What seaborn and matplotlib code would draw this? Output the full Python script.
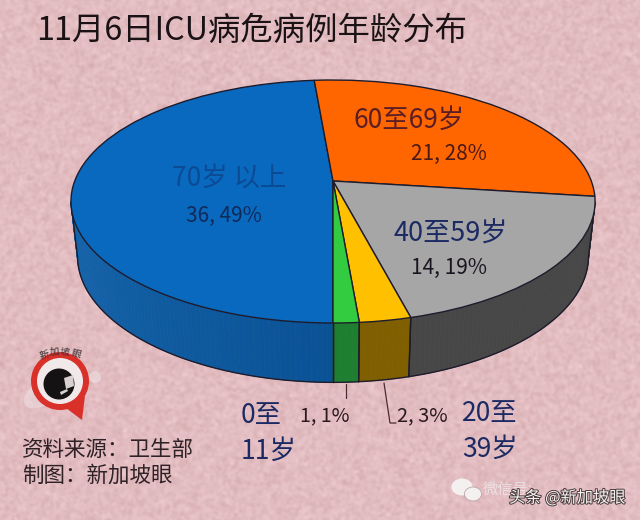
import numpy as np
import matplotlib
matplotlib.use("Agg")
import matplotlib.pyplot as plt
import matplotlib.patheffects as pe
from matplotlib.colors import to_rgb
from matplotlib.patches import Circle, Ellipse, Polygon
from matplotlib.transforms import Transform
import seaborn as sns

sns.set_theme(style="white")
plt.rcParams['font.family'] = ['Noto Sans CJK SC', 'DejaVu Sans']

title = "11月6日ICU病危病例年龄分布"
groups = ["70岁 以上", "60至69岁", "40至59岁"]
small_groups = [("0至", "11岁"), ("20至", "39岁")]
counts = [36, 21, 14, 2, 1]
percents = [49, 28, 19, 3, 1]
top_colors = ["#0869BF", "#FF6600", "#A6A6A6", "#FFC000", "#33CC40"]
side_colors = ["#0A5296", "#B04A00", "#474747", "#7F5F00", "#1E7F30"]
source_lines = ["资料来源：卫生部", "制图：新加坡眼"]

W, H = 640, 520
CX, CY, R = 333, 181, 258.3
PA, PC = -87.5, 0.1687          # perspective of the tilted disc


class Perspective(Transform):
    input_dims = output_dims = 2

    def transform_non_affine(self, values):
        u, v = values[:, 0], values[:, 1]
        den = 1 + PC * v
        return np.column_stack([CX + R * u / den, (PA * v + CY) / den])


P = Perspective()


def rim(t):
    return P.transform(np.column_stack([np.cos(t), np.sin(t)]))


def lower(xy):
    return np.column_stack([CX + 0.975 * (xy[:, 0] - CX), 256 + 1.04 * (xy[:, 1] - 201.5)])


fig = plt.figure(figsize=(W / 100, H / 100), dpi=100)

# mottled paper background
bg = fig.add_axes([0, 0, 1, 1], zorder=0)
rng = np.random.default_rng(6)
noise = rng.normal(size=(H, W))
fx = np.fft.fftfreq(W)[None, :]
fy = np.fft.fftfreq(H)[:, None]
f = np.hypot(fx, fy)
tex = np.fft.ifft2(np.fft.fft2(noise) * np.exp(-(f / 0.16) ** 2) * (f > 0.006)).real
tex = tex / tex.std()
base = np.array([226, 188, 192]) / 255
img = np.clip(base[None, None, :] + tex[:, :, None] * np.array([0.012, 0.016, 0.016]), 0, 1)
bg.imshow(img, aspect="auto", interpolation="bilinear")
bg.axis("off")

ax = fig.add_axes([0, 0, 1, 1], zorder=1)
ax.patch.set_alpha(0)

fracs = np.array(counts) / sum(counts)
edges = 270 - np.concatenate([[0], np.cumsum(fracs)]) * 360
line = "#1E1C2C"
VIS_LO, VIS_HI = 190, 350   # part of the rim that faces the viewer

for i, col in enumerate(side_colors):
    hi, lo = edges[i], edges[i + 1]
    if hi <= 0:
        hi, lo = hi + 360, lo + 360
    elif lo < 0:
        continue
    lo, hi = max(lo, VIS_LO), min(hi, VIS_HI)
    if lo >= hi:
        continue
    steps = np.linspace(lo, hi, max(int(hi - lo), 1) + 1)
    rgb = np.array(to_rgb(col))
    for s0, s1 in zip(steps[:-1], steps[1:]):
        top = rim(np.radians(np.linspace(s0, s1, 4)))
        low = lower(top)
        shade = rgb
        if i == 0:
            k = (270 - (s0 + s1) / 2) / 80
            shade = rgb + k * np.array([0.05, 0.08, 0.09])
        ax.fill(np.r_[top[:, 0], low[::-1, 0]], np.r_[top[:, 1], low[::-1, 1]],
                color=np.clip(shade, 0, 1), lw=0.5, zorder=1)
    top = rim(np.radians(np.linspace(lo, hi, 80)))
    low = lower(top)
    ax.plot(low[:, 0], low[:, 1], color=line, lw=1.0, zorder=2)
    for pt_t, pt_l in ((top[0], low[0]), (top[-1], low[-1])):
        ax.plot([pt_t[0], pt_l[0]], [pt_t[1], pt_l[1]], color=line, lw=1.0, zorder=2)

wedges, _ = ax.pie(counts, colors=top_colors, startangle=270, counterclock=False,
                   radius=1, center=(0, 0), frame=True,
                   wedgeprops=dict(edgecolor=line, linewidth=1.0))
for w in wedges:
    w.set_transform(P + ax.transData)
    w.set_zorder(3)
ax.set_aspect("auto")
ax.set_xlim(0, W)
ax.set_ylim(H, 0)
ax.axis("off")

navy = "#1C2A63"
dark = "#2A1A1E"

ax.text(36, 31, title, fontsize=23.3, color="#1A1214", ha="left", va="center", zorder=6)

ax.text(229, 178, groups[0], fontsize=19, color="#0C4A94", ha="center", va="center", zorder=6)
ax.text(224, 216, f"{counts[0]}, {percents[0]}%", fontsize=15, color="#102A5A", ha="center", va="center", zorder=6)
ax.text(409, 120, groups[1], fontsize=19, color="#5A1E24", ha="center", va="center", zorder=6)
ax.text(449, 154, f"{counts[1]}, {percents[1]}%", fontsize=15, color="#4A1A18", ha="center", va="center", zorder=6)
ax.text(451, 234, groups[2], fontsize=19.5, color=navy, ha="center", va="center", zorder=6)
ax.text(449, 268, f"{counts[2]}, {percents[2]}%", fontsize=15, color="#1A1420", ha="center", va="center", zorder=6)

ax.text(241, 415, small_groups[0][0], fontsize=19, color=navy, ha="left", va="center", zorder=6)
ax.text(241, 451, small_groups[0][1], fontsize=19, color=navy, ha="left", va="center", zorder=6)
ax.text(462, 413, small_groups[1][0], fontsize=19, color=navy, ha="left", va="center", zorder=6)
ax.text(462, 449, small_groups[1][1], fontsize=19, color=navy, ha="left", va="center", zorder=6)
ax.text(325, 416, f"{counts[4]}, {percents[4]}%", fontsize=14, color=dark, ha="center", va="center", zorder=6)
ax.text(422, 416, f"{counts[3]}, {percents[3]}%", fontsize=14.4, color=dark, ha="center", va="center", zorder=6)
ax.plot([346, 346], [384, 398], color="#4A2A30", lw=0.9, zorder=4)
ax.plot([384, 390, 396], [383, 423, 423], color="#4A2A30", lw=0.9, zorder=4)

ax.text(22, 450, source_lines[0], fontsize=15.5, color="#2E2226", ha="left", va="center", zorder=6)
ax.text(22, 476, source_lines[1], fontsize=15.5, color="#2E2226", ha="left", va="center", zorder=6)

# logo
ax.add_patch(Ellipse((44, 392), 46, 24, angle=-35, fc="#EFE6E8", ec="none", alpha=0.45, zorder=4))
ax.add_patch(Circle((95, 377), 6, fc="#EFE6E8", ec="none", alpha=0.5, zorder=4))
ax.add_patch(Polygon([[66, 408], [82, 420], [85, 396]], closed=True, fc="#D9302A", ec="none", zorder=4))
ax.add_patch(Circle((60, 381), 29, fc="#D9302A", ec="none", zorder=4))
ax.add_patch(Circle((60, 381), 23, fc="#F1E8EA", ec="none", zorder=4))
ax.add_patch(Circle((59, 384), 15.5, fc="#151214", ec="none", zorder=4))
ax.add_patch(Polygon([[64, 378], [73, 375], [74, 386], [66, 389]], closed=True, fc="#D8D0D0", ec="none", zorder=5))
ax.add_patch(Polygon([[60, 392], [67, 389], [68, 391], [61, 395]], closed=True, fc="#D8D0D0", ec="none", zorder=5))
for ch, x, y, rot in zip("新加坡眼", (44, 54, 65, 76), (355, 352, 352, 354), (14, 4, -4, -14)):
    ax.text(x, y, ch, fontsize=7, color="#3A2E30", ha="center", va="center", rotation=rot, zorder=6)

# watermark
ax.add_patch(Ellipse((462, 487), 21, 17, fc="#F4F0F0", ec="none", zorder=4))
ax.add_patch(Ellipse((473, 494), 17, 14, fc="#F4F0F0", ec="#B8A8AA", lw=0.6, zorder=4))
ax.text(483, 489, "微信号:", fontsize=11, color="#EDE6E6", ha="left", va="center", alpha=0.85, zorder=5)
ax.text(509, 498, "头条 @新加坡眼", fontsize=11.7, color="#F8F4F4", ha="left", va="center", zorder=6,
        path_effects=[pe.withStroke(linewidth=1.4, foreground="#4A3C3E")])

fig.savefig("out.png", dpi=100)
